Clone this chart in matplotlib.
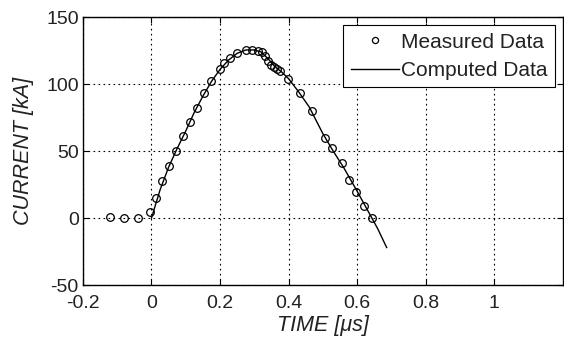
import numpy as np
import matplotlib
matplotlib.use("Agg")
import matplotlib.pyplot as plt

plt.rcParams['font.family'] = ['Liberation Sans', 'DejaVu Sans']
plt.rcParams['axes.unicode_minus'] = False

# measured points (time in us, current in kA)
meas_t = [-0.12, -0.08, -0.04, -0.005, 0.013, 0.032, 0.052, 0.071, 0.091, 0.111,
          0.132, 0.152, 0.175, 0.200, 0.212, 0.229, 0.250, 0.277, 0.292, 0.312,
          0.322, 0.331, 0.340, 0.348, 0.356, 0.366, 0.376, 0.398, 0.432, 0.468,
          0.505, 0.526, 0.555, 0.575, 0.598, 0.620, 0.643]
meas_i = [1.0, 0.0, 0.0, 4.5, 15.0, 28.0, 39.0, 50.0, 61.0, 72.0,
          82.0, 93.0, 102.0, 111.0, 116.0, 119.5, 123.0, 125.5, 125.5, 125.0,
          124.0, 121.0, 117.0, 114.0, 112.5, 111.0, 110.0, 104.0, 93.0, 80.0,
          60.0, 52.0, 41.0, 28.5, 19.5, 9.0, 0.0]

# computed curve
comp_t = [0.0, 0.025, 0.05, 0.075, 0.10, 0.125, 0.15, 0.175, 0.20, 0.225, 0.25,
          0.275, 0.30, 0.32, 0.34, 0.36, 0.38, 0.40, 0.43, 0.46, 0.50, 0.53,
          0.56, 0.60, 0.63, 0.66, 0.686]
comp_i = [0.0, 21.0, 38.0, 52.0, 65.0, 79.0, 91.0, 102.0, 111.0, 118.0, 123.0,
          125.5, 125.5, 124.0, 119.0, 113.0, 109.0, 104.0, 94.0, 83.0, 63.0, 50.0,
          38.0, 20.0, 6.0, -8.0, -22.0]

fig = plt.figure(figsize=(5.64, 3.43), dpi=100)
ax = fig.add_axes([0.147, 0.169, 0.851, 0.781])

ax.plot(comp_t, comp_i, color='black', lw=1.0, label='Computed Data', zorder=3)
ax.plot(meas_t, meas_i, linestyle='none', marker='o', mfc='none', mec='black',
        ms=5.5, mew=0.9, label='Measured Data', zorder=4)

ax.set_xlim(-0.2, 1.2)
ax.set_ylim(-50, 150)
ax.set_xticks([-0.2, 0, 0.2, 0.4, 0.6, 0.8, 1.0])
ax.set_xticklabels(['-0.2', '0', '0.2', '0.4', '0.6', '0.8', '1'])
ax.set_yticks([-50, 0, 50, 100, 150])

ax.grid(True, color='black', linestyle=(0, (1.5, 3)), lw=0.8)
ax.tick_params(direction='in', top=True, right=True, labelsize=14, length=4,
               labelcolor='#222222')
ax.tick_params(axis='x', pad=7)
ax.tick_params(axis='y', pad=3)
for s in ax.spines.values():
    s.set_linewidth(1.0)

ax.set_xlabel('TIME [μs]', fontsize=15.5, style='italic', labelpad=2, color='#222222')
ax.set_ylabel('CURRENT [kA]', fontsize=15.5, style='italic', labelpad=9, color='#222222')

h, l = ax.get_legend_handles_labels()
leg = ax.legend(h[::-1], l[::-1], loc='upper right', fontsize=15, frameon=True,
                fancybox=False, edgecolor='black', framealpha=1, handlelength=2.3,
                handletextpad=0.1, borderpad=0.35, labelspacing=0.45,
                borderaxespad=0.4, markerscale=0.8)
leg.get_frame().set_linewidth(0.8)
for t in leg.get_texts():
    t.set_color('#222222')

fig.savefig('out.png', dpi=100)
